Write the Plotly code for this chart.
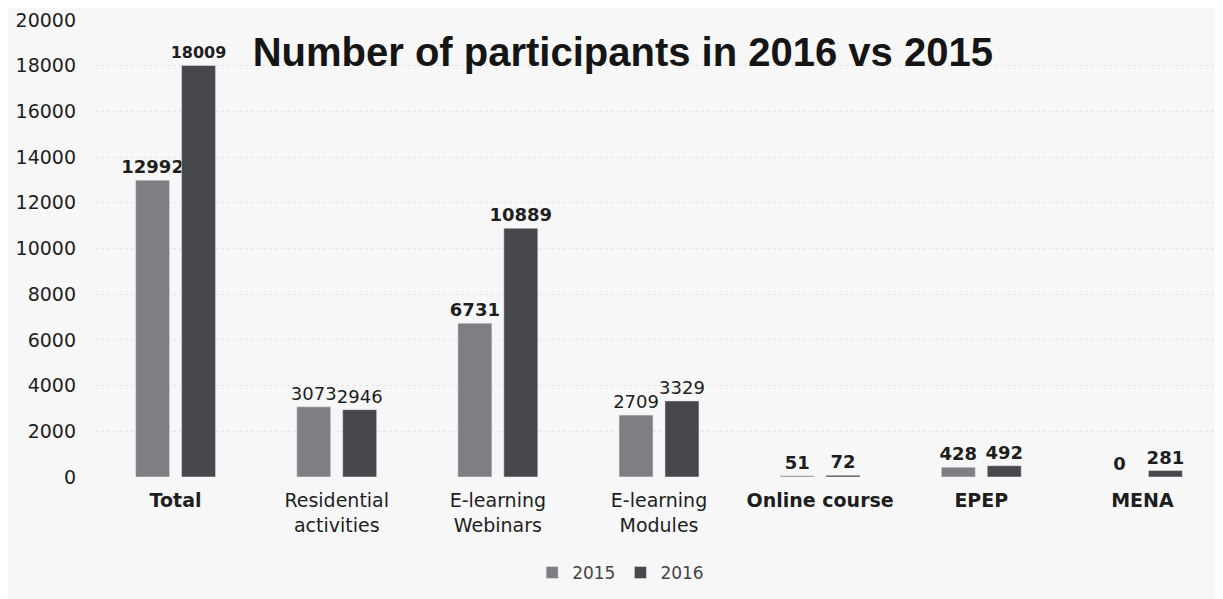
import plotly.graph_objects as go

# ── Data ──────────────────────────────────────────────────────────────────────
CATEGORIES = ["<b>Total</b>", "Residential<br>activities", "E-learning<br>Webinars",
              "E-learning<br>Modules", "<b>Online course</b>", "<b>EPEP</b>", "<b>MENA</b>"]
VALUES_2015 = [12992, 3073, 6731, 2709, 51, 428, 0]
VALUES_2016 = [18009, 2946, 10889, 3329, 72, 492, 281]
BOLD_LABELS = [True, False, True, False, True, True, True]
Y_TICKS = [0, 2000, 4000, 6000, 8000, 10000, 12000, 14000, 16000, 18000, 20000]

COLORS = {"2015": "#7e7f85", "2016": "#47484e", "text": "#1e1e1e", "bg": "#f7f7f7"}
LABEL_FONT = "DejaVu Sans, Verdana, sans-serif"


def label_texts(values):
    return [f"<b>{v}</b>" if b else str(v) for v, b in zip(values, BOLD_LABELS)]


fig = go.Figure()
fig.add_trace(go.Bar(
    name="2015", x=CATEGORIES, y=VALUES_2015,
    marker_color=COLORS["2015"],
    text=label_texts(VALUES_2015), textposition="outside", constraintext="none",
    textfont=dict(size=18, color=COLORS["text"], family=LABEL_FONT),
    cliponaxis=False,
))
fig.add_trace(go.Bar(
    name="2016", x=CATEGORIES, y=VALUES_2016,
    marker_color=COLORS["2016"],
    text=label_texts(VALUES_2016), textposition="outside", constraintext="none",
    textfont=dict(size=[16, 18, 18, 18, 18, 18, 18], color=COLORS["text"], family=LABEL_FONT),
    cliponaxis=False,
))

# the page body adds an 8px margin, so the figure is 8px smaller
fig.update_layout(
    width=1215, height=591,
    barmode="group", bargap=0.43, bargroupgap=0.26,
    paper_bgcolor=COLORS["bg"], plot_bgcolor=COLORS["bg"],
    font=dict(family=LABEL_FONT, color=COLORS["text"], size=18),
    title=dict(text="<b>Number of participants in 2016 vs 2015</b>",
               x=0.506, xanchor="center", y=0.925, yanchor="middle",
               font=dict(size=40, color="#151515", family="Liberation Sans, Arial, sans-serif")),
    margin=dict(l=87, r=0, t=12, b=122),
    showlegend=True,
    legend=dict(orientation="h", x=0.466, xanchor="center", y=-0.21, yanchor="middle",
                font=dict(size=17, color="#444"), itemwidth=30, bgcolor="rgba(0,0,0,0)"),
)
fig.update_yaxes(
    range=[0, 20000], tickvals=Y_TICKS, tickformat="d", showline=False, zeroline=False,
    gridcolor="#e4e4e4", griddash="dot", gridwidth=1,
    ticklabelstandoff=18, tickfont=dict(size=19),
)
fig.update_xaxes(showline=False, ticks="", tickfont=dict(size=19), ticklabelstandoff=10)

fig.write_html("out.html")
